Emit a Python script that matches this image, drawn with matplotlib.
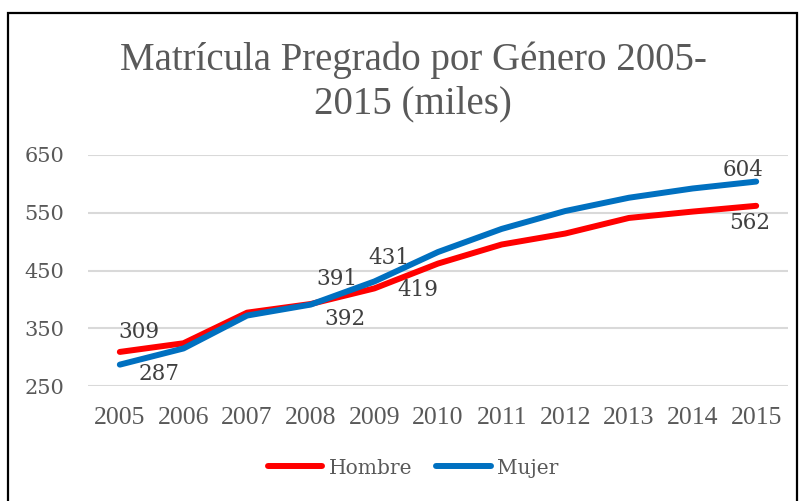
import matplotlib
matplotlib.use("Agg")
import matplotlib.pyplot as plt
from matplotlib.patches import Rectangle

# data (miles de estudiantes)
years = [2005, 2006, 2007, 2008, 2009, 2010, 2011, 2012, 2013, 2014, 2015]
hombre = [309, 324, 377, 392, 419, 462, 495, 514, 541, 552, 562]
mujer = [287, 315, 372, 391, 431, 482, 522, 553, 576, 592, 604]
yticks = [250, 350, 450, 550, 650]

title = "Matrícula Pregrado por Género 2005-\n2015 (miles)"
grey = "#595959"
red = "#ff0000"
blue = "#0070c0"

# which points get a value label, and where (pixel offsets)
labels_h = {2005: (19, 20), 2008: (34, -15), 2009: (44, -2), 2015: (-6, -17)}
labels_m = {2005: (39, -9), 2008: (26, 26), 2009: (15, 23), 2015: (-13, 12)}

W, H = 804, 501
fig = plt.figure(figsize=(W / 100, H / 100), dpi=100)
ax = fig.add_axes([88 / W, 1 - 386 / H, 700 / W, 231 / H])

ax.plot(years, hombre, color=red, lw=4.3, solid_capstyle="round", label="Hombre", zorder=3)
ax.plot(years, mujer, color=blue, lw=4.3, solid_capstyle="round", label="Mujer", zorder=4)

for series, offs in ((hombre, labels_h), (mujer, labels_m)):
    for yr, (dx, dy) in offs.items():
        v = series[years.index(yr)]
        ax.annotate(str(v), (yr, v), xytext=(dx, dy), textcoords="offset pixels",
                    ha="center", va="center", fontsize=15.5, color="#404040",
                    family="DejaVu Serif", zorder=5)

ax.set_xlim(2004.5, 2015.5)
ax.set_ylim(250, 650)
ax.set_xticks(years)
ax.set_xticklabels([str(y) for y in years], family="Liberation Serif", fontsize=18.5, color=grey)
ax.set_yticks(yticks)
ax.set_yticklabels([str(y) for y in yticks], family="DejaVu Serif", fontsize=15, color=grey)
ax.tick_params(axis="both", length=0)
ax.tick_params(axis="y", pad=17)
ax.tick_params(axis="x", pad=15)
ax.grid(axis="y", color="#d9d9d9", lw=1.5)
ax.set_axisbelow(True)
for s in ax.spines.values():
    s.set_visible(False)

fig.text(413 / W, 1 - 82 / H, title, ha="center", va="center", fontsize=28,
         family="Liberation Serif", color=grey, linespacing=1.2)

fig.legend(loc="center", bbox_to_anchor=(413 / W, 1 - 468 / H), ncol=2, frameon=False,
           prop={"family": "DejaVu Serif", "size": 14.5}, labelcolor=grey,
           handlelength=2.7, handletextpad=0.3, columnspacing=1.2)

# chart border
fig.patches.append(Rectangle((8 / W, -0.1), (797 - 8) / W, 1.1 - 13 / H, transform=fig.transFigure,
                             fill=False, edgecolor="black", lw=1.6))

fig.savefig("out.png", dpi=100)
